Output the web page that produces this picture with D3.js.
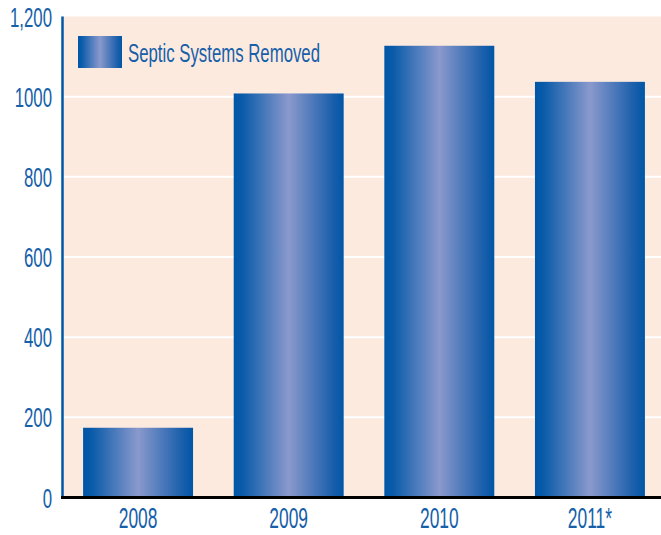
<!DOCTYPE html>
<html><head><meta charset="utf-8">
<script src="https://cdn.jsdelivr.net/npm/d3@7"></script>
<style>body{margin:0;background:#fff}svg{display:block}</style>
</head><body>
<script>
const categories = ["2008", "2009", "2010", "2011*"];
const values = [174, 1008, 1127, 1037];
const yTicks = [0, 200, 400, 600, 800, 1000, 1200];
const yTickLabels = ["0", "200", "400", "600", "800", "1000", "1,200"];
const seriesName = "Septic Systems Removed";

const W = 661, H = 535;
const FONT = "'Liberation Sans',Arial,sans-serif";
const TXT = "#1560a9";
const SX = 0.6;

const svg = d3.select("body").append("svg").attr("width", W).attr("height", H);
const defs = svg.append("defs");
const grad = defs.append("linearGradient").attr("id", "barGrad")
  .attr("x1", "0%").attr("x2", "100%").attr("y1", "0%").attr("y2", "0%");
[[0, "#0056a7"], [0.08, "#0a5ba9"], [0.5, "#8a99cd"], [0.9, "#1a5fab"], [1, "#0056a7"]]
  .forEach(([o, c]) => grad.append("stop").attr("offset", o).attr("stop-color", c));

const y = d3.scaleLinear().domain([0, 1200]).range([497.5, 16.5]);
const x = d3.scaleBand().domain(categories).range([62, 666]).paddingInner(0.27).paddingOuter(0.14);

// plot background
svg.append("rect").attr("x", 62).attr("y", y(1200)).attr("width", W - 62).attr("height", y(0) - y(1200))
  .attr("fill", "#fdeadf");

// gridlines
svg.append("g").selectAll("line").data(yTicks.filter(d => d > 0 && d < 1200)).join("line")
  .attr("x1", 62).attr("x2", W).attr("y1", d => y(d)).attr("y2", d => y(d))
  .attr("stroke", "#ffffff").attr("stroke-width", 2);

// bars
svg.append("g").selectAll("rect").data(values).join("rect")
  .attr("x", (d, i) => x(categories[i])).attr("width", x.bandwidth())
  .attr("y", d => y(d)).attr("height", d => y(0) - y(d))
  .attr("fill", "url(#barGrad)");

// y axis line
svg.append("line").attr("x1", 62.5).attr("x2", 62.5).attr("y1", y(1200)).attr("y2", y(0) + 1)
  .attr("stroke", "#0057a7").attr("stroke-width", 2.5);
// x axis line
svg.append("line").attr("x1", 61).attr("x2", W).attr("y1", y(0)).attr("y2", y(0))
  .attr("stroke", "#000").attr("stroke-width", 3);

// y tick labels
const yl = svg.append("g").selectAll("g").data(yTicks).join("g")
  .attr("transform", d => `translate(52,${y(d) + 10}) scale(${SX},1)`);
yl.append("text").attr("text-anchor", "end").attr("font-family", FONT).attr("font-size", 28)
  .attr("fill", TXT).text((d, i) => yTickLabels[i]);

// x tick labels
const xl = svg.append("g").selectAll("g").data(categories).join("g")
  .attr("transform", d => `translate(${x(d) + x.bandwidth() / 2},527.5) scale(${SX},1)`);
xl.append("text").attr("text-anchor", "middle").attr("font-family", FONT).attr("font-size", 29)
  .attr("fill", TXT).text(d => d);

// legend
svg.append("rect").attr("x", 78).attr("y", 36).attr("width", 44).attr("height", 32).attr("fill", "url(#barGrad)");
svg.append("text").attr("x", 128).attr("y", 61.5).attr("font-family", FONT).attr("font-size", 25)
  .attr("textLength", 192).attr("lengthAdjust", "spacingAndGlyphs")
  .attr("fill", TXT).text(seriesName);
</script>
</body></html>
